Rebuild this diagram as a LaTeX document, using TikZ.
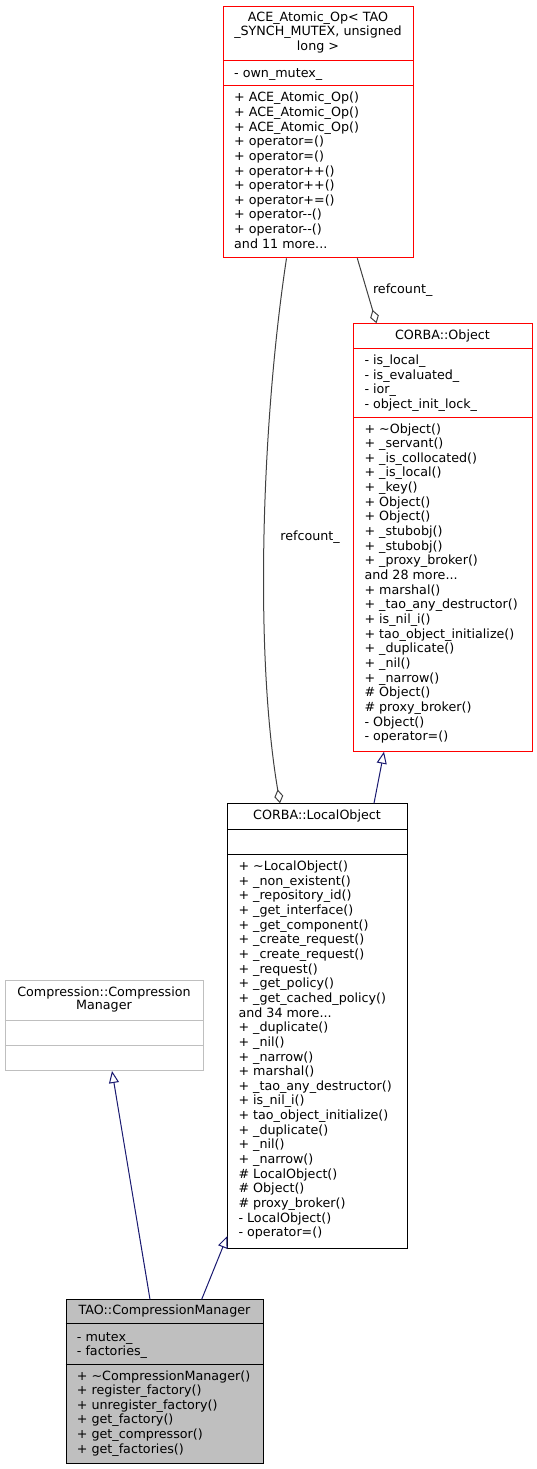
\documentclass[tikz,border=0pt]{standalone}
\usepackage{fontspec}
\newfontfamily\umlfont{DejaVu Sans}
\usetikzlibrary{arrows.meta}
\definecolor{navyline}{HTML}{191970}
\definecolor{edgegray}{HTML}{404040}
\definecolor{basegray}{HTML}{BFBFBF}
\tikzset{
  cls/.style={draw, line width=1pt, inner sep=0pt, anchor=north west},
  redcls/.style={cls, draw=red},
  divider/.style={line width=1pt},
  member/.style={anchor=west, inner sep=0pt, font=\umlfont\fontsize{12.7}{15}\selectfont, text height=10pt, text depth=2pt},
  ttl/.style={member, anchor=center},
  inherit/.style={draw=navyline, line width=1pt, -{Triangle[open,length=12pt,width=10pt]}},
  aggr/.style={draw=edgegray, line width=1pt, -{Diamond[open,length=14pt,width=9pt]}}
}
\begin{document}
\begin{tikzpicture}[x=1pt,y=-1pt]
  \useasboundingbox (0,0) rectangle (537,1469);
  % ACE_Atomic_Op
  \node[redcls, minimum width=190pt, minimum height=251.6pt] (ace) at (223,5.7) {};
  \draw[divider, red] (ace.west |- 0,60.7) -- (ace.east |- 0,60.7);
  \draw[divider, red] (ace.west |- 0,85.7) -- (ace.east |- 0,85.7);
  \foreach \s [count=\i from 0] in {ACE\_Atomic\_Op< TAO, {\_SYNCH\_MUTEX, unsigned}, long >}
    \node[ttl] (ace-t\i) at (318,17.5+14.4*\i) {\s};
  \node[member] (ace-a0) at (234,73.3) {- own\_mutex\_};
  \foreach \s [count=\i from 0] in {+ ACE\_Atomic\_Op(), + ACE\_Atomic\_Op(), + ACE\_Atomic\_Op(),
      + operator=(), + operator=(), + operator++(), + operator++(), + operator+=(),
      + operator-{}-(), + operator-{}-(), and 11 more.{}.{}.}
    \node[member] (ace-m\i) at (234,97.7+14.66*\i) {\s};
  % CORBA::Object
  \node[redcls, minimum width=178.2pt, minimum height=427.4pt] (obj) at (353.3,323.3) {};
  \draw[divider, red] (obj.west |- 0,348.3) -- (obj.east |- 0,348.3);
  \draw[divider, red] (obj.west |- 0,417.7) -- (obj.east |- 0,417.7);
  \node[ttl] (obj-t0) at (442.4,335) {CORBA::Object};
  \foreach \s [count=\i from 0] in {- is\_local\_, - is\_evaluated\_, - ior\_, - object\_init\_lock\_}
    \node[member] (obj-a\i) at (364.3,360.7+14.53*\i) {\s};
  \foreach \s [count=\i from 0] in {+ \textasciitilde Object(), + \_servant(), + \_is\_collocated(),
      + \_is\_local(), + \_key(), + Object(), + Object(), + \_stubobj(), + \_stubobj(),
      + \_proxy\_broker(), and 28 more.{}.{}., + marshal(), + \_tao\_any\_destructor(), + is\_nil\_i(),
      + tao\_object\_initialize(), + \_duplicate(), + \_nil(), + \_narrow(), \# Object(),
      \# proxy\_broker(), - Object(), - operator=()}
    \node[member] (obj-m\i) at (364.3,429+14.65*\i) {\s};
  % CORBA::LocalObject
  \node[cls, minimum width=179.4pt, minimum height=445pt] (lo) at (227.3,803.3) {};
  \draw[divider] (lo.west |- 0,829) -- (lo.east |- 0,829);
  \draw[divider] (lo.west |- 0,854.3) -- (lo.east |- 0,854.3);
  \node[ttl] (lo-t0) at (317,815.7) {CORBA::LocalObject};
  \foreach \s [count=\i from 0] in {+ \textasciitilde LocalObject(), + \_non\_existent(),
      + \_repository\_id(), + \_get\_interface(), + \_get\_component(), + \_create\_request(),
      + \_create\_request(), + \_request(), + \_get\_policy(), + \_get\_cached\_policy(),
      and 34 more.{}.{}., + \_duplicate(), + \_nil(), + \_narrow(), + marshal(),
      + \_tao\_any\_destructor(), + is\_nil\_i(), + tao\_object\_initialize(), + \_duplicate(),
      + \_nil(), + \_narrow(), \# LocalObject(), \# Object(), \# proxy\_broker(),
      - LocalObject(), - operator=()}
    \node[member] (lo-m\i) at (238.3,866.7+14.64*\i) {\s};
  % Compression::CompressionManager
  \node[cls, draw=basegray, minimum width=198.6pt, minimum height=90pt] (cmp) at (4.7,980) {};
  \draw[divider, basegray] (cmp.west |- 0,1020) -- (cmp.east |- 0,1020);
  \draw[divider, basegray] (cmp.west |- 0,1045.3) -- (cmp.east |- 0,1045.3);
  \node[ttl] (cmp-t0) at (104,992.5) {Compression::Compression};
  \node[ttl] (cmp-t1) at (104,1005.5) {Manager};
  % TAO::CompressionManager
  \node[cls, fill=basegray, minimum width=197.6pt, minimum height=164pt] (tao) at (65.7,1299.3) {};
  \draw[divider] (tao.west |- 0,1323.3) -- (tao.east |- 0,1323.3);
  \draw[divider] (tao.west |- 0,1364) -- (tao.east |- 0,1364);
  \node[ttl] (tao-t0) at (164.5,1310.7) {TAO::CompressionManager};
  \foreach \s [count=\i from 0] in {- mutex\_, - factories\_}
    \node[member] (tao-a\i) at (76.7,1337.7+14*\i) {\s};
  \foreach \s [count=\i from 0] in {+ \textasciitilde CompressionManager(), + register\_factory(),
      + unregister\_factory(), + get\_factory(), + get\_compressor(), + get\_factories()}
    \node[member] (tao-m\i) at (76.7,1376+14.66*\i) {\s};
  % connectors
  \draw[aggr] (ace.south -| 286.5,0) .. controls (262,420) and (254,650) .. (lo.north -| 280,0);
  \node[ttl] (rc-lo) at (310,536) {refcount\_};
  \draw[aggr] (ace.south -| 357.3,0) -- (obj.north -| 376.5,0);
  \node[ttl] (rc-obj) at (402.7,289.5) {refcount\_};
  \draw[inherit] (lo.north -| 374,0) -- (obj.south -| 384,0);
  \draw[inherit] (tao.north -| 150,0) -- (cmp.south -| 112,0);
  \draw[inherit] (tao.north -| 201.7,0) -- (lo.west |- 0,1236);
\end{tikzpicture}
\end{document}
